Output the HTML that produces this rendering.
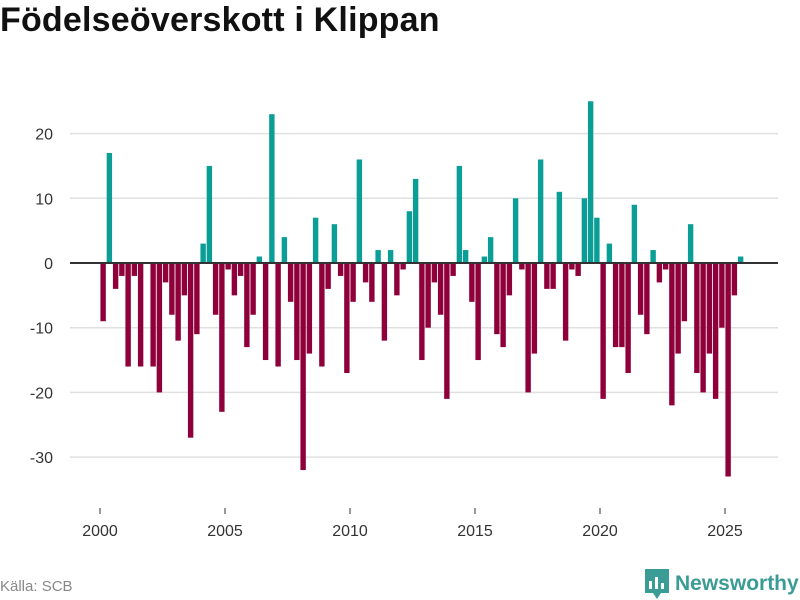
<!DOCTYPE html>
<html><head><meta charset="utf-8"><style>
body{margin:0;background:#fff;font-family:"Liberation Sans",sans-serif;}
#wrap{position:relative;width:800px;height:600px;overflow:hidden;}
h1{position:absolute;left:0;top:1px;margin:0;font-size:34px;font-weight:bold;color:#111;letter-spacing:0.2px;}
#src{position:absolute;left:0;top:578px;font-size:15px;color:#888;}
#logo{position:absolute;left:645px;top:569px;display:flex;align-items:center;}
#logo span{font-size:21px;font-weight:bold;color:#3a9c94;margin-left:6px;}
</style></head><body>
<div id="wrap">
<h1>Födelseöverskott i Klippan</h1>
<svg id="chart" width="800" height="600" style="position:absolute;left:0;top:0"></svg>
<div id="src">Källa: SCB</div>
<div id="logo">
<svg width="24" height="30" viewBox="0 0 24 30"><path d="M0 0h24v24h-8l-4 6-4-6H0z" fill="#3a9c94"/><rect x="4" y="12" width="3" height="8" fill="#fff"/><rect x="10" y="8" width="3" height="12" fill="#fff"/><rect x="16" y="14" width="3" height="6" fill="#fff"/></svg>
<span>Newsworthy</span></div>
</div>
<script>
const startYear = 2000;
const values = [
-9,17,-4,-2, -16,-2,-16,0, -16,-20,-3,-8, -12,-5,-27,-11, 3,15,-8,-23,
-1,-5,-2,-13, -8,1,-15,23, -16,4,-6,-15, -32,-14,7,-16, -4,6,-2,-17,
-6,16,-3,-6, 2,-12,2,-5, -1,8,13,-15, -10,-3,-8,-21, -2,15,2,-6,
-15,1,4,-11, -13,-5,10,-1, -20,-14,16,-4, -4,11,-12,-1, -2,10,25,7,
-21,3,-13,-13, -17,9,-8,-11, 2,-3,-1,-22, -14,-9,6,-17, -20,-14,-21,-10,
-33,-5,1];
const yTicks = [-30,-20,-10,0,10,20];
const xTicks = [2000,2005,2010,2015,2020,2025];

const svg = document.getElementById('chart');
const NS = 'http://www.w3.org/2000/svg';
const x = yr => 100 + (yr - 2000) * 25;
const y = v => 263 - v * 6.47;
function mk(tag, attrs){const e=document.createElementNS(NS,tag);for(const k in attrs)e.setAttribute(k,attrs[k]);svg.appendChild(e);return e;}

yTicks.forEach(t=>{
  if(t!==0){
    const g=mk('line',{x1:70,x2:778,y1:y(t),y2:y(t),stroke:'#e0e0e0','stroke-width':1.5});
    
    
  }
  const l=mk('text',{x:53,y:y(t)+6,'text-anchor':'end','font-size':16,fill:'#333','font-family':'Liberation Sans, sans-serif'});
  l.textContent=t;
  
  
});
xTicks.forEach(t=>{
  const l=mk('text',{x:x(t),y:536,'text-anchor':'middle','font-size':16,fill:'#333','font-family':'Liberation Sans, sans-serif'});
  l.textContent=t;
  
  
  const tk=mk('line',{x1:x(t),x2:x(t),y1:508,y2:514,stroke:'#333','stroke-width':1});
  
  
});
values.forEach((v,i)=>{
  const cx = x(startYear + (i + 0.5) / 4);
  const top = Math.min(y(v), y(0)), h = Math.abs(y(v) - y(0));
  const b=mk('rect',{x:cx-2.7,y:top,width:5.4,height:h,fill:v>=0?'#0a9e96':'#8f003b'});
  
  
});
const z=mk('line',{x1:70,x2:778,y1:y(0),y2:y(0),stroke:'#333','stroke-width':2});


</script>
</body></html>
